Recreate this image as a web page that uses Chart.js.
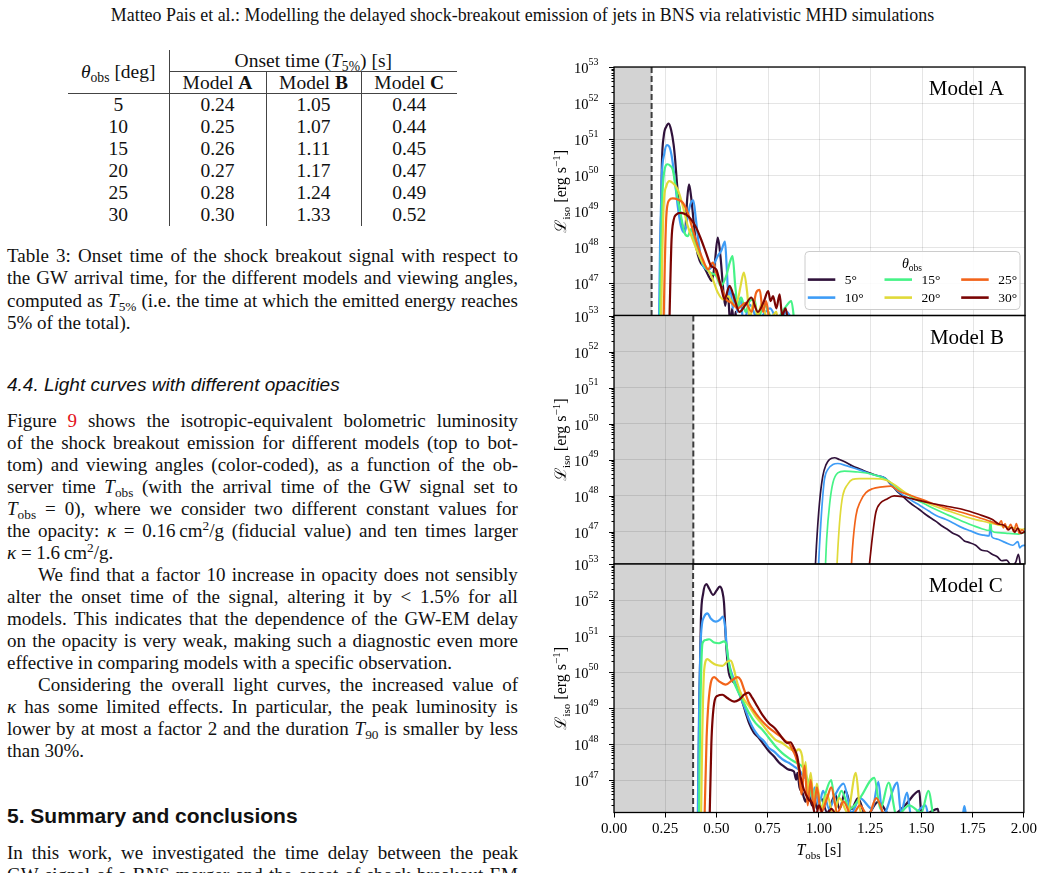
<!DOCTYPE html>
<html>
<head>
<meta charset="utf-8">
<title>Shock breakout light curves</title>
<script src="https://cdn.jsdelivr.net/npm/chart.js@4.4.1/dist/chart.umd.min.js"></script>
<style>
  html, body { margin: 0; padding: 0; background: #fff; }
  body { position: relative; width: 1045px; height: 873px; overflow: hidden;
         font-family: 'Liberation Serif', 'Times New Roman', serif; color: #111; }
  .abs { position: absolute; }
  sub, sup { font-size: 70%; line-height: 0; }
  sub { vertical-align: -0.28em; }
  sup { vertical-align: 0.5em; }
  a { color: #e3121b; text-decoration: none; }
  #hdr { position: absolute; left: 0; top: 5px; width: 1045px; text-align: center; font-size: 17.9px; line-height: 20px; }
  #tab { position: absolute; left: 68px; top: 50px; border-collapse: collapse; table-layout: fixed; width: 389px; font-size: 19.5px; }
  #tab td { padding: 0; text-align: center; vertical-align: middle; line-height: 19px; }
  #tab tr.r td { height: 22px; }
  #tab .vr { border-right: 1px solid #444; }
  #tab .bb { border-bottom: 1px solid #444; }
  #tab .bt { border-top: 1px solid #444; }
  .blk { position: absolute; left: 7px; width: 511px; font-size: 19px; }
  .blk div { box-sizing: border-box; height: 22px; line-height: 22px; white-space: nowrap; }
  .cap div { height: 22.4px; line-height: 22.4px; }
  .j { display: flex; justify-content: space-between; }
  .ind { padding-left: 31px; }
  .h4 { font-family: 'Liberation Sans', Arial, sans-serif; font-style: italic; font-size: 19px; }
  .h5 { font-family: 'Liberation Sans', Arial, sans-serif; font-weight: bold; font-size: 21px; }
</style>
</head>
<body>

<div id="hdr">Matteo Pais et al.: Modelling the delayed shock-breakout emission of jets in BNS via relativistic MHD simulations</div>

<table id="tab">
  <colgroup><col style="width:101px"><col style="width:97px"><col style="width:95px"><col style="width:96px"></colgroup>
  <tr style="height:21px">
    <td rowspan="2" class="vr bb"><i>θ</i><sub>obs</sub> [deg]</td>
    <td colspan="3">Onset time (<i>T</i><sub>5%</sub>) [s]</td>
  </tr>
  <tr style="height:22px">
    <td class="bt bb vr">Model <b>A</b></td>
    <td class="bt bb vr">Model <b>B</b></td>
    <td class="bt bb">Model <b>C</b></td>
  </tr>
  <tr class="r"><td class="vr">5</td><td class="vr">0.24</td><td class="vr">1.05</td><td>0.44</td></tr>
  <tr class="r"><td class="vr">10</td><td class="vr">0.25</td><td class="vr">1.07</td><td>0.44</td></tr>
  <tr class="r"><td class="vr">15</td><td class="vr">0.26</td><td class="vr">1.11</td><td>0.45</td></tr>
  <tr class="r"><td class="vr">20</td><td class="vr">0.27</td><td class="vr">1.17</td><td>0.47</td></tr>
  <tr class="r"><td class="vr">25</td><td class="vr">0.28</td><td class="vr">1.24</td><td>0.49</td></tr>
  <tr class="r"><td class="vr">30</td><td class="vr">0.30</td><td class="vr">1.33</td><td>0.52</td></tr>
</table>

<div class="blk cap" style="top:245px">
  <div class="j">Table 3: Onset time of the shock breakout signal with respect to</div>
  <div class="j">the GW arrival time, for the different models and viewing angles,</div>
  <div class="j">computed as <i>T</i><sub>5%</sub> (i.e. the time at which the emitted energy reaches</div>
  <div>5% of the total).</div>
</div>

<div class="blk h4" style="top:374px"><div>4.4. Light curves with different opacities</div></div>

<div class="blk" style="top:410px">
  <div class="j">Figure <a>9</a> shows the isotropic-equivalent bolometric luminosity</div>
  <div class="j">of the shock breakout emission for different models (top to bot-</div>
  <div class="j">tom) and viewing angles (color-coded), as a function of the ob-</div>
  <div class="j">server time <i>T</i><sub>obs</sub> (with the arrival time of the GW signal set to</div>
  <div class="j"><i>T</i><sub>obs</sub> = 0), where we consider two different constant values for</div>
  <div class="j">the opacity: <i>κ</i> = 0.16&#8201;cm<sup>2</sup>/g (fiducial value) and ten times larger</div>
  <div><i>κ</i> = 1.6&#8201;cm<sup>2</sup>/g.</div>
  <div class="j ind">We find that a factor 10 increase in opacity does not sensibly</div>
  <div class="j">alter the onset time of the signal, altering it by &lt; 1.5% for all</div>
  <div class="j">models. This indicates that the dependence of the GW-EM delay</div>
  <div class="j">on the opacity is very weak, making such a diagnostic even more</div>
  <div>effective in comparing models with a specific observation.</div>
  <div class="j ind">Considering the overall light curves, the increased value of</div>
  <div class="j"><i>κ</i> has some limited effects. In particular, the peak luminosity is</div>
  <div class="j">lower by at most a factor 2 and the duration <i>T</i><sub>90</sub> is smaller by less</div>
  <div>than 30%.</div>
</div>

<div class="blk h5" style="top:805px"><div>5. Summary and conclusions</div></div>

<div class="blk" style="top:842px">
  <div class="j">In this work, we investigated the time delay between the peak</div>
  <div class="j">GW signal of a BNS merger and the onset of shock breakout EM</div>
</div>

<canvas id="chartA" class="abs" style="left:545px;top:55px" width="495" height="275"></canvas>
<canvas id="chartB" class="abs" style="left:545px;top:303px" width="495" height="275"></canvas>
<canvas id="chartC" class="abs" style="left:545px;top:552px" width="495" height="321"></canvas>

<script>
// ---- data: [T_obs (s), log10 L_iso (erg/s)] ----
const angles = [5, 10, 15, 20, 25, 30];
const angleColors = ['#30123b', '#3e9cf6', '#46f386', '#e0da39', '#f2641a', '#7a0403'];
const modelNames = ['Model A', 'Model B', 'Model C'];
const gwDelay = [0.183, 0.386, 0.386];     // end of grey band / dashed line
const xTicks = [0, 0.25, 0.5, 0.75, 1, 1.25, 1.5, 1.75, 2];
const yTickExps = [47, 48, 49, 50, 51, 52, 53];
const yAllExps = [46, 47, 48, 49, 50, 51, 52, 53];
const yRange = [46.1, 53];

// Model A
const A5 = [[0.222,45.5],[0.228,48.5],[0.233,50.3],[0.242,51.08],[0.255,51.35],[0.266,51.43],[0.278,51.25],[0.290,50.85],[0.298,50.4],[0.306,49.8],[0.317,49.14],[0.333,48.58],[0.346,48.45],[0.356,49.32],[0.365,49.74],[0.375,49.41],[0.388,48.68],[0.401,47.98],[0.418,47.61],[0.440,47.43],[0.460,47.2],[0.476,47.06],[0.489,47.48],[0.505,48.26],[0.518,47.75],[0.530,46.92],[0.541,46.37],[0.550,46.7],[0.557,46.55],[0.566,45.8],[0.575,46.3],[0.584,45.8],[0.592,46.2],[0.600,45.5]];
const A10 = [[0.218,45.5],[0.224,48.0],[0.232,49.9],[0.245,50.6],[0.258,50.83],[0.268,50.8],[0.280,50.55],[0.294,49.97],[0.310,49.14],[0.326,48.58],[0.343,48.4],[0.359,48.86],[0.372,49.2],[0.386,49.3],[0.398,48.8],[0.410,48.2],[0.432,47.5],[0.457,47.38],[0.480,47.47],[0.505,47.75],[0.522,47.9],[0.540,48.15],[0.548,47.5],[0.557,46.64],[0.566,46.9],[0.578,46.3],[0.590,46.7],[0.600,46.2],[0.615,46.6],[0.630,45.9],[0.660,46.4],[0.700,46.0],[0.760,46.3],[0.800,45.9],[0.840,46.2],[0.880,45.8]];
const A15 = [[0.222,45.5],[0.228,47.8],[0.236,49.5],[0.248,50.2],[0.260,50.3],[0.275,50.25],[0.286,50.15],[0.302,49.6],[0.323,48.95],[0.343,48.4],[0.359,48.3],[0.375,48.5],[0.390,48.2],[0.416,47.75],[0.440,47.47],[0.465,47.3],[0.497,47.2],[0.520,46.92],[0.546,47.2],[0.565,47.6],[0.577,47.75],[0.590,46.92],[0.603,46.37],[0.620,46.6],[0.640,46.2],[0.660,46.5],[0.684,46.55],[0.700,46.0],[0.730,46.4],[0.780,45.9],[0.830,46.3],[0.863,46.5],[0.880,45.8]];
const A20 = [[0.228,45.5],[0.234,47.5],[0.242,49.2],[0.255,49.7],[0.270,49.83],[0.286,49.78],[0.310,49.6],[0.335,49.14],[0.359,48.58],[0.383,48.21],[0.408,47.84],[0.432,47.57],[0.457,47.38],[0.481,47.1],[0.505,46.74],[0.530,46.55],[0.554,46.64],[0.587,46.37],[0.605,46.6],[0.616,46.92],[0.632,47.29],[0.648,46.74],[0.660,46.0],[0.680,46.5],[0.700,46.1],[0.720,46.45],[0.750,45.9],[0.790,46.2],[0.800,45.8]];
const A25 = [[0.240,45.5],[0.246,47.2],[0.254,48.8],[0.268,49.3],[0.286,49.35],[0.310,49.32],[0.335,49.23],[0.359,48.95],[0.383,48.49],[0.408,48.03],[0.432,47.66],[0.457,47.38],[0.481,47.57],[0.497,47.29],[0.520,46.92],[0.546,46.55],[0.570,46.46],[0.603,46.3],[0.640,46.45],[0.670,46.2],[0.692,46.74],[0.709,46.81],[0.725,46.2],[0.740,46.5],[0.760,45.9],[0.790,46.1],[0.800,45.8]];
const A30 = [[0.268,45.5],[0.274,47.0],[0.280,48.2],[0.290,48.75],[0.302,48.9],[0.326,48.95],[0.351,48.9],[0.375,48.77],[0.400,48.54],[0.424,48.21],[0.448,47.84],[0.473,47.47],[0.497,47.38],[0.520,46.92],[0.538,46.55],[0.562,46.92],[0.587,46.55],[0.610,46.2],[0.640,46.4],[0.668,46.6],[0.700,46.2],[0.730,46.5],[0.750,46.78],[0.762,46.5],[0.774,46.64],[0.790,46.3],[0.806,46.69],[0.818,46.1],[0.835,46.3],[0.850,45.8]];

// Model B
const B5 = [[0.975,45.5],[0.985,46.6],[1.000,47.8],[1.016,48.54],[1.032,48.86],[1.048,49.0],[1.073,49.05],[1.097,49.0],[1.130,48.92],[1.161,48.82],[1.200,48.73],[1.242,48.63],[1.283,48.55],[1.323,48.47],[1.340,48.35],[1.355,48.26],[1.380,48.1],[1.403,47.99],[1.440,47.8],[1.484,47.62],[1.520,47.46],[1.565,47.29],[1.600,47.14],[1.625,47.05],[1.645,46.97],[1.680,46.87],[1.705,46.74],[1.726,46.7],[1.760,46.62],[1.790,46.48],[1.815,46.46],[1.840,46.37],[1.865,46.3],[1.887,46.19],[1.910,46.21],[1.935,46.05],[1.955,46.15],[1.968,46.37],[1.980,46.0],[2.000,45.9]];
const B10 = [[0.990,45.5],[1.000,46.6],[1.012,47.7],[1.024,48.45],[1.040,48.72],[1.065,48.86],[1.089,48.89],[1.130,48.83],[1.170,48.76],[1.210,48.68],[1.260,48.58],[1.323,48.47],[1.350,48.3],[1.371,48.17],[1.410,48.0],[1.452,47.85],[1.490,47.72],[1.532,47.57],[1.570,47.44],[1.613,47.34],[1.650,47.24],[1.694,47.11],[1.735,47.02],[1.774,46.93],[1.800,46.9],[1.826,46.88],[1.832,47.25],[1.838,46.86],[1.860,46.8],[1.903,46.7],[1.940,46.62],[1.965,46.72],[1.975,46.55],[1.984,46.6],[2.000,46.62]];
const B15 = [[1.025,45.5],[1.035,46.8],[1.050,47.8],[1.065,48.35],[1.089,48.63],[1.121,48.68],[1.177,48.66],[1.258,48.59],[1.323,48.45],[1.360,48.3],[1.387,48.17],[1.430,48.02],[1.468,47.89],[1.510,47.77],[1.548,47.66],[1.590,47.55],[1.629,47.45],[1.670,47.35],[1.710,47.25],[1.750,47.16],[1.790,47.08],[1.826,47.03],[1.832,47.3],[1.838,47.02],[1.871,46.97],[1.920,46.95],[1.968,46.93],[2.000,46.98]];
const B20 = [[1.080,45.5],[1.089,46.5],[1.100,47.4],[1.113,47.99],[1.137,48.31],[1.161,48.45],[1.194,48.47],[1.258,48.47],[1.323,48.43],[1.363,48.31],[1.419,48.08],[1.500,47.85],[1.581,47.66],[1.661,47.51],[1.742,47.36],[1.823,47.25],[1.903,47.14],[1.950,47.1],[1.984,47.06],[2.000,47.08]];
const B25 = [[1.150,45.5],[1.160,46.5],[1.177,47.43],[1.200,47.85],[1.226,48.08],[1.258,48.19],[1.306,48.24],[1.347,48.26],[1.387,48.12],[1.452,47.99],[1.532,47.82],[1.613,47.66],[1.694,47.53],[1.774,47.39],[1.839,47.27],[1.870,47.2],[1.885,47.3],[1.895,47.1],[1.903,47.22],[1.915,47.05],[1.930,47.2],[1.945,47.0],[1.958,47.22],[1.972,46.95],[1.985,47.05],[2.000,46.98]];
const B30 = [[1.232,45.5],[1.245,46.2],[1.258,46.88],[1.274,47.53],[1.298,47.8],[1.323,47.89],[1.363,47.99],[1.403,47.97],[1.452,47.91],[1.532,47.8],[1.613,47.71],[1.694,47.62],[1.774,47.48],[1.839,47.34],[1.870,47.22],[1.903,47.16],[1.920,47.05],[1.935,47.12],[1.950,46.98],[1.965,47.1],[1.980,46.95],[2.000,47.0]];

// Model C
const C5 = [[0.410,45.5],[0.416,49.0],[0.424,51.45],[0.435,52.18],[0.451,52.44],[0.464,52.32],[0.484,52.14],[0.500,52.26],[0.516,52.37],[0.529,52.23],[0.537,51.91],[0.545,50.98],[0.558,50.06],[0.575,49.78],[0.594,49.65],[0.618,49.32],[0.643,48.86],[0.659,48.58],[0.683,48.31],[0.707,48.17],[0.732,47.98],[0.756,47.8],[0.780,47.66],[0.805,47.49],[0.829,47.38],[0.853,47.29],[0.878,47.24],[0.889,47.01],[0.895,47.2],[0.905,46.8],[0.920,46.64],[0.935,46.4],[0.950,46.7],[0.965,46.3],[0.975,46.6],[0.990,46.2],[1.010,46.5],[1.040,46.1],[1.080,46.6],[1.100,46.2],[1.130,46.7],[1.160,46.2],[1.190,46.5],[1.230,46.0],[1.290,46.4],[1.350,46.0],[1.420,46.3],[1.490,46.7],[1.500,46.0],[1.540,46.1],[1.580,46.2],[1.590,45.8]];
const C10 = [[0.408,45.5],[0.414,48.5],[0.424,50.98],[0.440,51.54],[0.456,51.63],[0.472,51.49],[0.497,51.4],[0.516,51.45],[0.532,51.54],[0.542,51.26],[0.553,50.52],[0.565,50.15],[0.586,49.78],[0.610,49.41],[0.635,49.05],[0.659,48.68],[0.683,48.4],[0.707,48.21],[0.732,48.08],[0.756,47.89],[0.780,47.8],[0.805,47.66],[0.829,47.55],[0.853,47.48],[0.878,47.38],[0.902,47.29],[0.926,47.1],[0.950,46.92],[0.965,46.5],[0.980,46.8],[1.000,46.3],[1.020,46.7],[1.050,46.2],[1.080,46.6],[1.120,46.9],[1.160,46.1],[1.200,46.5],[1.260,46.2],[1.290,46.95],[1.310,46.0],[1.383,46.93],[1.400,46.1],[1.430,46.65],[1.450,46.0],[1.520,46.3],[1.540,45.9],[1.700,46.0],[1.710,46.28],[1.720,45.9]];
const C15 = [[0.414,45.5],[0.420,48.5],[0.432,50.8],[0.448,50.89],[0.464,50.91],[0.489,50.82],[0.513,50.8],[0.537,50.85],[0.549,50.75],[0.558,50.34],[0.570,49.97],[0.594,49.6],[0.626,49.23],[0.659,48.86],[0.691,48.58],[0.724,48.4],[0.756,48.17],[0.788,47.94],[0.821,47.75],[0.853,47.61],[0.886,47.49],[0.918,47.38],[0.934,47.2],[0.950,46.9],[0.970,46.5],[0.990,46.8],[1.010,46.2],[1.030,46.6],[1.060,47.0],[1.080,46.3],[1.110,46.7],[1.150,46.2],[1.200,46.5],[1.270,47.06],[1.300,46.2],[1.340,46.93],[1.380,46.0],[1.440,46.3],[1.500,46.1],[1.534,46.7],[1.560,45.9]];
const C20 = [[0.424,45.5],[0.430,48.0],[0.440,50.06],[0.456,50.36],[0.472,50.29],[0.497,50.2],[0.529,50.17],[0.553,50.29],[0.570,50.32],[0.586,50.06],[0.602,49.69],[0.626,49.32],[0.659,49.05],[0.691,48.77],[0.724,48.54],[0.756,48.31],[0.788,48.12],[0.821,48.03],[0.853,47.89],[0.886,47.8],[0.900,47.85],[0.918,47.66],[0.926,47.1],[0.935,47.5],[0.945,46.6],[0.960,47.2],[0.975,46.3],[0.990,46.9],[1.010,46.2],[1.040,46.6],[1.070,46.0],[1.100,46.5],[1.140,46.1],[1.180,47.2],[1.200,46.2],[1.230,45.9]];
const C25 = [[0.440,45.5],[0.452,48.2],[0.472,49.69],[0.489,49.86],[0.513,49.74],[0.545,49.65],[0.578,49.78],[0.602,49.86],[0.618,49.78],[0.635,49.51],[0.659,49.14],[0.691,48.86],[0.724,48.63],[0.756,48.45],[0.788,48.31],[0.821,48.17],[0.837,48.08],[0.853,48.03],[0.870,47.85],[0.886,47.66],[0.902,47.29],[0.915,46.6],[0.930,47.4],[0.945,46.3],[0.960,47.0],[0.975,46.2],[0.990,46.8],[1.010,46.1],[1.040,46.5],[1.060,46.8],[1.090,46.1],[1.120,46.4],[1.160,46.0],[1.200,46.3],[1.240,46.0],[1.280,46.5],[1.320,46.0],[1.350,45.9]];
const C30 = [[0.465,45.5],[0.475,48.0],[0.489,49.14],[0.505,49.34],[0.529,49.37],[0.553,49.28],[0.586,49.18],[0.610,49.23],[0.635,49.37],[0.656,49.43],[0.675,49.28],[0.699,49.05],[0.724,48.81],[0.756,48.58],[0.788,48.42],[0.821,48.17],[0.845,48.03],[0.861,48.05],[0.878,47.89],[0.894,47.66],[0.910,47.1],[0.926,46.74],[0.950,46.46],[0.966,46.37],[0.985,46.0],[1.000,46.3],[1.030,45.9],[1.060,46.2],[1.100,45.8]];

const modelA = [A5, A10, A15, A20, A25, A30];
const modelB = [B5, B10, B15, B20, B25, B30];
const modelC = [C5, C10, C15, C20, C25, C30];

// ---- justified text lines ----
document.querySelectorAll('.j').forEach(function (el) {
  el.innerHTML = el.innerHTML.trim().split(/[ \n\t]+/).map(function (w) { return '<span>' + w + '</span>'; }).join('');
});

// ---- chart helpers ----
const SERIF = "'Liberation Serif', 'DejaVu Serif', 'Times New Roman', serif";
const GRID = 'rgba(0,0,0,0.1)';

function isDecade(v) {
  const e = Math.log10(v);
  return Math.abs(e - Math.round(e)) < 1e-6;
}

// parts: [text, size, dy, italic]
function richWidth(ctx, parts) {
  let w = 0;
  parts.forEach(p => { ctx.font = (p[3] ? 'italic ' : '') + p[1] + 'px ' + SERIF; w += ctx.measureText(p[0]).width; });
  return w;
}
function richDraw(ctx, parts, x, y) {
  parts.forEach(p => {
    ctx.font = (p[3] ? 'italic ' : '') + p[1] + 'px ' + SERIF;
    ctx.fillText(p[0], x, y + (p[2] || 0));
    x += ctx.measureText(p[0]).width;
  });
}

const panelPlugin = {
  id: 'panel',
  beforeDraw(chart, args, o) {
    const { ctx, chartArea: a } = chart;
    const px = chart.scales.x.getPixelForValue(o.delay);
    ctx.save();
    ctx.fillStyle = '#d3d3d3';
    ctx.fillRect(a.left, a.top, px - a.left, a.bottom - a.top);
    ctx.restore();
  },
  beforeDatasetsDraw(chart, args, o) {
    const { ctx, chartArea: a } = chart;
    const px = chart.scales.x.getPixelForValue(o.delay);
    ctx.save();
    ctx.strokeStyle = '#3d3d3d';
    ctx.lineWidth = 2;
    ctx.setLineDash([6, 3]);
    ctx.beginPath(); ctx.moveTo(px, a.top); ctx.lineTo(px, a.bottom); ctx.stroke();
    ctx.restore();
  },
  afterDraw(chart, args, o) {
    const { ctx, chartArea: a } = chart;
    const y = chart.scales.y;
    ctx.save();
    ctx.fillStyle = '#000';
    ctx.strokeStyle = '#000';

    // frame
    ctx.lineWidth = 1.3;
    ctx.strokeRect(a.left, a.top, a.right - a.left, a.bottom - a.top);

    // log ticks, major + minor
    ctx.lineWidth = 1;
    yAllExps.forEach(e => {
      for (let s = 1; s <= 9; s++) {
        const v = s * Math.pow(10, e);
        if (v < y.min * 0.999 || v > y.max * 1.001) continue;
        const py = Math.round(y.getPixelForValue(v)) + 0.5;
        const len = s === 1 ? 5 : 2.5;
        ctx.beginPath(); ctx.moveTo(a.left - len, py); ctx.lineTo(a.left, py); ctx.stroke();
      }
    });

    // 10^n labels
    ctx.textBaseline = 'alphabetic';
    ctx.textAlign = 'left';
    yTickExps.forEach(e => {
      const py = y.getPixelForValue(Math.pow(10, e));
      const parts = [['10', 14.5, 0], [String(e), 10, -8.5]];
      const w = richWidth(ctx, parts);
      richDraw(ctx, parts, a.left - 15.5 - w, py + 6);
    });

    // y title (rotated), canvas coordinates
    const yt = [['ℒ', 16, 0], ['iso', 11, 3.5], [' [erg s', 16, 0], ['−1', 11, -6.5], [']', 16, 0]];
    ctx.save();
    ctx.translate(a.left - 48, (a.top + a.bottom) / 2);
    ctx.rotate(-Math.PI / 2);
    richDraw(ctx, yt, -richWidth(ctx, yt) / 2, 0);
    ctx.restore();

    // panel name
    ctx.font = '21px ' + SERIF;
    ctx.textAlign = 'right';
    ctx.fillText(o.name, a.right - 21, a.top + 28);
    ctx.textAlign = 'left';

    // x title
    if (o.xTitle) {
      const xt = [['T', 16, 0, true], ['obs', 11, 3.5], [' [s]', 16, 0]];
      richDraw(ctx, xt, (a.left + a.right) / 2 - richWidth(ctx, xt) / 2, a.bottom + 42.5);
    }

    // legend
    if (o.legend) {
      const bw = 215, bh = 58;
      const bx = a.right - 5.5 - bw, by = a.bottom - 6.5 - bh;
      ctx.fillStyle = 'rgba(255,255,255,0.85)';
      ctx.strokeStyle = '#cccccc';
      ctx.lineWidth = 1;
      ctx.beginPath();
      ctx.roundRect(bx + 0.5, by + 0.5, bw, bh, 4);
      ctx.fill(); ctx.stroke();
      ctx.fillStyle = '#000';
      const tt = [['θ', 14, 0, true], ['obs', 9.5, 3]];
      richDraw(ctx, tt, bx + bw / 2 - richWidth(ctx, tt) / 2, by + 17);
      ctx.font = '13.5px ' + SERIF;
      ctx.textBaseline = 'middle';
      angles.forEach((ang, i) => {
        const col = Math.floor(i / 2), row = i % 2;
        const lx = bx + 3.3 + col * 76.7;
        const ly = by + 28.6 + row * 18;
        ctx.strokeStyle = angleColors[i];
        ctx.lineWidth = 2.6;
        ctx.beginPath(); ctx.moveTo(lx, ly); ctx.lineTo(lx + 27.5, ly); ctx.stroke();
        ctx.fillText(ang + '°', lx + 37, ly + 0.5);
      });
    }
    ctx.restore();
  }
};

function makeSets(series, width) {
  return series.map((pts, i) => ({
    label: angles[i] + '°',
    data: pts.map(p => ({ x: p[0], y: Math.pow(10, p[1]) })),
    borderColor: angleColors[i],
    borderWidth: width,
    pointRadius: 0,
    fill: false,
    cubicInterpolationMode: 'monotone',
    order: angles.length - i
  }));
}

function makeChart(id, series, cfg) {
  return new Chart(document.getElementById(id), {
    type: 'line',
    data: { datasets: makeSets(series, cfg.width) },
    options: {
      responsive: false,
      animation: false,
      devicePixelRatio: 1,
      events: [],
      layout: { padding: { top: cfg.padTop, bottom: cfg.padBottom, left: 0, right: 15 } },
      plugins: {
        legend: { display: false },
        tooltip: { enabled: false },
        panel: cfg.panel
      },
      scales: {
        x: {
          type: 'linear',
          min: 0, max: 2,
          afterBuildTicks: s => { s.ticks = xTicks.map(v => ({ value: v })); },
          afterFit: s => { s.height = cfg.xHeight; },
          ticks: {
            display: cfg.showX, autoSkip: false, maxRotation: 0, padding: 3,
            color: '#000', font: { family: SERIF, size: 15 },
            callback: v => Number(v).toFixed(2)
          },
          grid: { color: GRID, lineWidth: 1, drawTicks: cfg.showX, tickLength: 5, tickColor: '#000', tickWidth: 1 },
          border: { display: false }
        },
        y: {
          type: 'logarithmic',
          min: Math.pow(10, yRange[0]), max: Math.pow(10, yRange[1]),
          afterFit: s => { s.width = 69; },
          ticks: { display: false },
          grid: {
            color: c => (c.tick && isDecade(c.tick.value)) ? GRID : 'rgba(0,0,0,0)',
            lineWidth: 1, drawTicks: false
          },
          border: { display: false }
        }
      }
    },
    plugins: [panelPlugin]
  });
}

makeChart('chartA', modelA, {
  width: 2.2, padTop: 12, padBottom: 14.5, xHeight: 0, showX: false,
  panel: { name: modelNames[0], delay: gwDelay[0], legend: true }
});
makeChart('chartB', modelB, {
  width: 1.7, padTop: 12.5, padBottom: 14, xHeight: 0, showX: false,
  panel: { name: modelNames[1], delay: gwDelay[1] }
});
makeChart('chartC', modelC, {
  width: 2.2, padTop: 12, padBottom: 5.5, xHeight: 55, showX: true,
  panel: { name: modelNames[2], delay: gwDelay[2], xTitle: true }
});
</script>
</body>
</html>
